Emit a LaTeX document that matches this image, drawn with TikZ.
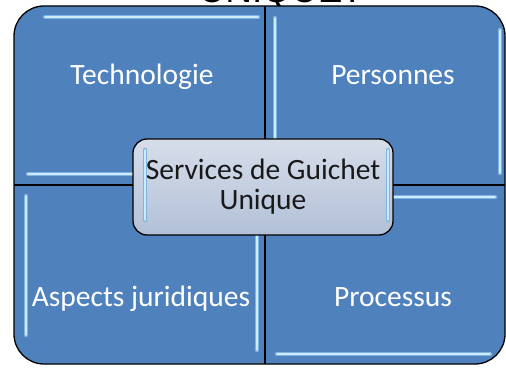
\documentclass[tikz,border=0pt]{standalone}
\usepackage{fontspec}
\setmainfont{Carlito}
\newfontfamily\uniqfont{Liberation Sans}
\definecolor{qblue}{HTML}{4F81BD}
\definecolor{hiA}{HTML}{7DB4E4}
\definecolor{hiB}{HTML}{CDEBFC}
\definecolor{ctop}{HTML}{D7DEEA}
\definecolor{cbot}{HTML}{B2C0D7}
\newcommand\glint[2]{\draw[hl] #1 -- #2; \draw[hlc] #1 -- #2;}
\begin{document}
\begin{tikzpicture}[x=1pt,y=1pt,
  quad/.style={fill=qblue},
  hl/.style={line cap=round, line width=4.5pt, draw=hiA},
  hlc/.style={line cap=round, line width=1.7pt, draw=hiB},
  lbl/.style={text=white, font=\fontsize{29.5}{31}\selectfont, anchor=base, inner sep=0pt},
  border/.style={draw=black, line width=1.3pt},
  centerbox/.style={draw=black, line width=1.3pt, rounded corners=14pt,
    top color=ctop, bottom color=cbot, minimum width=260pt, minimum height=96pt,
    align=center, text=black!90, font=\fontsize{29.5}{30}\selectfont}]
\useasboundingbox (0,0) rectangle (506,367);
\fill[white] (0,0) rectangle (506,367);
\node[anchor=base, inner sep=0pt, font=\uniqfont\fontsize{37}{40}\selectfont] (title) at (281,364) {UNIQUE?};
% frame fill
\fill[quad, rounded corners=30pt] (14,3) rectangle (505,361);
% bevel highlights
\glint{(45,350)}{(258,350)}
\glint{(28,193)}{(258,193)}
\glint{(275,349)}{(275,197)}
\glint{(500,337)}{(500,194)}
\glint{(26,171)}{(26,32)}
\glint{(257,140)}{(257,17)}
\glint{(272,170)}{(495,170)}
\glint{(277,13)}{(490,13)}
% dividers and border
\coordinate (vt) at (265,361);
\coordinate (vb) at (265,3);
\coordinate (hl) at (14,182);
\coordinate (hr) at (505,182);
\draw[border] (vt) -- (vb);
\draw[border] (hl) -- (hr);
\draw[border, rounded corners=30pt] (14,3) rectangle (505,361);
% center
\node[centerbox] (c) at (263,180) {Services de Guichet\\Unique};
\glint{(145,217)}{(145,147)}
\glint{(388,217)}{(388,147)}
\node[lbl] (t) at (142,282) {Technologie};
\node[lbl] (p) at (393,282) {Personnes};
\node[lbl] (a) at (141,60) {Aspects juridiques};
\node[lbl] (r) at (393,60) {Processus};
\end{tikzpicture}
\end{document}
